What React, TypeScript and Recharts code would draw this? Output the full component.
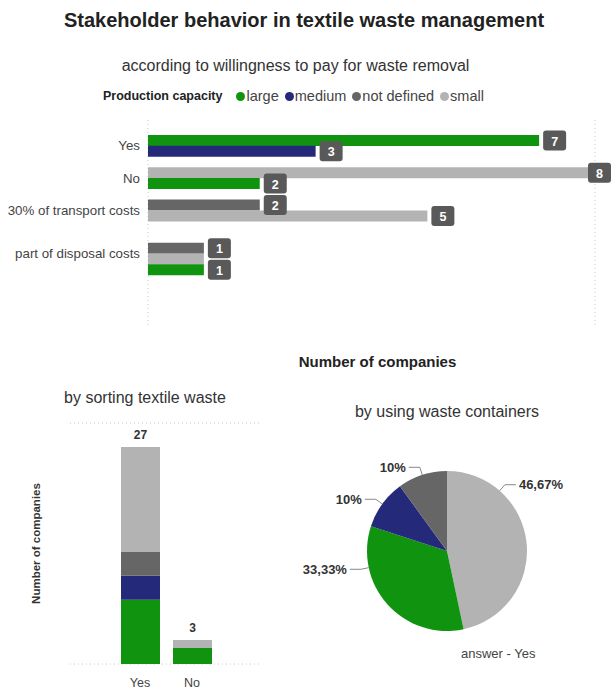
import React from 'react';
import { BarChart, Bar, XAxis, YAxis, CartesianGrid, Cell, LabelList, PieChart, Pie } from 'recharts';

const capacities = ['large', 'medium', 'not defined', 'small'];
const capacityColors: Record<string, string> = {
  large: '#109410',
  medium: '#25297a',
  'not defined': '#666666',
  small: '#b3b3b3',
};

// willingness to pay: one entry per drawn bar, top to bottom
const payAnswers = ['Yes', 'No', '30% of transport costs', 'part of disposal costs'];
const payBarAnswer = ['Yes', 'Yes', 'No', 'No', '30% of transport costs', '30% of transport costs', 'part of disposal costs', 'part of disposal costs', 'part of disposal costs'];
const payBarCapacity = ['large', 'medium', 'small', 'large', 'not defined', 'small', 'not defined', 'small', 'large'];
const payBarValue = [7, 3, 8, 2, 2, 5, 1, 1, 1];
const payTicks = [0, 2, 4, 6, 8];

// sorting textile waste (stacked)
const sortAnswers = ['Yes', 'No'];
const sortLarge = [8, 2];
const sortMedium = [3, 0];
const sortNotDefined = [3, 0];
const sortSmall = [13, 1];
const sortTicks = [0, 10, 20, 30];

// using waste containers, answer - Yes
const containerCapacity = ['small', 'large', 'medium', 'not defined'];
const containerCount = [14, 10, 3, 3];

const FONT = '"Liberation Sans", Arial, sans-serif';

// layout of the top chart
const TOP_W = 611;
const TOP_H = 260;
const TOP_MARGIN = { top: 10, right: 16, bottom: 0, left: 0 };
const TOP_XAXIS_H = 45;
const TOP_PAD = { top: 15, bottom: 50 };
const gapAfter = [1, 1, 2];

type PayRow = { row: string; answer: string; capacity: string; value: number; label: number | null; first: boolean };
const payRows: PayRow[] = [];
payAnswers.forEach((ans, g) => {
  const idx = payBarAnswer.map((a, i) => (a === ans ? i : -1)).filter((i) => i >= 0);
  idx.forEach((i, k) => {
    const show = k === 0 || k === idx.length - 1;
    payRows.push({
      row: `${ans}|${payBarCapacity[i]}`,
      answer: ans,
      capacity: payBarCapacity[i],
      value: payBarValue[i],
      label: show ? payBarValue[i] : null,
      first: k === 0,
    });
  });
  for (let s = 0; s < (gapAfter[g] || 0); s++) {
    payRows.push({ row: `gap-${g}-${s}`, answer: '', capacity: '', value: 0, label: null, first: false });
  }
});
const BAND = (TOP_H - TOP_MARGIN.top - TOP_XAXIS_H - TOP_PAD.top - TOP_PAD.bottom) / payRows.length;

const sortRows = sortAnswers.map((a, i) => ({
  answer: a,
  large: sortLarge[i],
  medium: sortMedium[i],
  notDefined: sortNotDefined[i],
  small: sortSmall[i],
  total: sortLarge[i] + sortMedium[i] + sortNotDefined[i] + sortSmall[i],
}));

const containerRows = containerCapacity.map((c, i) => ({ capacity: c, count: containerCount[i] }));
const containerTotal = containerCount.reduce((s, v) => s + v, 0);

function PayTick(props: any) {
  const { x, y, payload } = props;
  const r = payRows.find((p) => p.row === payload.value);
  if (!r || !r.first) return <g />;
  return (
    <text x={x} y={y + BAND / 2} textAnchor="end" dominantBaseline="central" fontSize={13.3} fill="#444" fontFamily={FONT}>
      {r.answer}
    </text>
  );
}

function ValueBox(props: any) {
  const { x, y, width, height, value } = props;
  if (value == null || value === '') return <g />;
  const bx = Math.min(x + width + 4, TOP_W - 23);
  const cy = y + height / 2;
  return (
    <g>
      <rect x={bx} y={cy - 10} width={23} height={20} rx={3} fill="#595959" />
      <text x={bx + 11.5} y={cy + 1} textAnchor="middle" dominantBaseline="central" fill="#fff" fontWeight="bold" fontSize={12.5} fontFamily={FONT}>
        {value}
      </text>
    </g>
  );
}

// where along each slice Power BI hangs the label (0 = slice start, 1 = slice end)
const pieLabelAt: Record<string, number> = { small: 0.245, large: 0.75, medium: 0.5, 'not defined': 0.5 };
const RAD = Math.PI / 180;

function fmtPct(v: number) {
  const p = (v / containerTotal) * 100;
  return Number.isInteger(Math.round(p * 100) / 100) ? `${Math.round(p)}%` : `${p.toFixed(2).replace('.', ',')}%`;
}

function PieLabel(props: any) {
  const { cx, cy, outerRadius, startAngle, endAngle, payload, value } = props;
  const f = pieLabelAt[payload.capacity] ?? 0.5;
  const a = startAngle + f * (endAngle - startAngle);
  const cos = Math.cos(-a * RAD);
  const sin = Math.sin(-a * RAD);
  const x0 = cx + outerRadius * cos;
  const y0 = cy + outerRadius * sin;
  const x1 = cx + (outerRadius + 8) * cos;
  const y1 = cy + (outerRadius + 8) * sin;
  const dir = cos >= 0 ? 1 : -1;
  const x2 = x1 + dir * 11;
  return (
    <g>
      <polyline points={`${x0},${y0} ${x1},${y1} ${x2},${y1}`} fill="none" stroke="#888" strokeWidth={1} />
      <text x={x2 + dir * 3} y={y1} textAnchor={dir > 0 ? 'start' : 'end'} dominantBaseline="central" fontSize={13} fontWeight="bold" fill="#333" fontFamily={FONT}>
        {fmtPct(value)}
      </text>
    </g>
  );
}

const abs = (left: number, top: number, extra: React.CSSProperties = {}): React.CSSProperties => ({
  position: 'absolute',
  left,
  top,
  ...extra,
});

export default function App() {
  return (
    <div style={{ position: 'absolute', left: 0, top: 0, width: 611, height: 690, background: '#fff', overflow: 'hidden', fontFamily: FONT }}>
      <div style={abs(0, 9, { width: 608, textAlign: 'center', fontSize: 20, fontWeight: 'bold', color: '#222', lineHeight: '22px' })}>
        Stakeholder behavior in textile waste management
      </div>
      <div style={abs(0, 56, { width: 591, textAlign: 'center', fontSize: 16, color: '#333', lineHeight: '20px' })}>
        according to willingness to pay for waste removal
      </div>

      <div style={abs(103, 87, { display: 'flex', alignItems: 'center', height: 18, whiteSpace: 'nowrap' })}>
        <span style={{ fontSize: 12.5, fontWeight: 'bold', color: '#222', marginRight: 14 }}>Production capacity</span>
        {capacities.map((c) => (
          <span key={c} style={{ display: 'flex', alignItems: 'center', marginRight: 6 }}>
            <span style={{ width: 9, height: 9, borderRadius: '50%', background: capacityColors[c], marginRight: 1 }} />
            <span style={{ fontSize: 14.5, color: '#444' }}>{c}</span>
          </span>
        ))}
      </div>

      <div style={abs(0, 110)}>
        <BarChart width={TOP_W} height={TOP_H} data={payRows} layout="vertical" margin={TOP_MARGIN} barCategoryGap={0} barGap={0}>
          <CartesianGrid horizontal={false} stroke="#c8c8c8" strokeDasharray="1 3" />
          <XAxis
            type="number"
            domain={[0, 8]}
            ticks={payTicks}
            tick={false}
            axisLine={false}
            tickLine={false}
            height={TOP_XAXIS_H}
            label={{ value: 'Number of companies', position: 'insideBottom', offset: 3, dx: 6, fontSize: 15, fontWeight: 'bold', fill: '#222', fontFamily: FONT }}
          />
          <YAxis
            type="category"
            dataKey="row"
            width={148}
            interval={0}
            axisLine={false}
            tickLine={false}
            padding={TOP_PAD}
            tick={<PayTick />}
          />
          <Bar dataKey="value" isAnimationActive={false}>
            {payRows.map((r) => (
              <Cell key={r.row} fill={capacityColors[r.capacity] || 'transparent'} />
            ))}
            <LabelList dataKey="label" content={<ValueBox />} />
          </Bar>
        </BarChart>
      </div>

      <div style={abs(0, 388, { width: 290, textAlign: 'center', fontSize: 16, color: '#333', lineHeight: '20px' })}>
        by sorting textile waste
      </div>
      <div style={abs(0, 380)}>
        <BarChart width={300} height={310} data={sortRows} margin={{ top: 43, right: 38, bottom: 0, left: 0 }}>
          <CartesianGrid vertical={false} stroke="#c8c8c8" strokeDasharray="1 3" />
          <XAxis
            dataKey="answer"
            axisLine={false}
            tickLine={false}
            height={26}
            tickMargin={8}
            padding={{ left: 44, right: 44 }}
            tick={{ fontSize: 12.5, fill: '#444', fontFamily: FONT }}
          />
          <YAxis
            domain={[0, 30]}
            ticks={sortTicks}
            tick={false}
            axisLine={false}
            tickLine={false}
            width={70}
            label={{ value: 'Number of companies', angle: -90, position: 'center', dx: 1, fontSize: 11.5, fontWeight: 'bold', fill: '#333', fontFamily: FONT }}
          />
          <Bar dataKey="large" stackId="s" fill={capacityColors.large} barSize={39} isAnimationActive={false} />
          <Bar dataKey="medium" stackId="s" fill={capacityColors.medium} barSize={39} isAnimationActive={false} />
          <Bar dataKey="notDefined" stackId="s" fill={capacityColors['not defined']} barSize={39} isAnimationActive={false} />
          <Bar dataKey="small" stackId="s" fill={capacityColors.small} barSize={39} isAnimationActive={false}>
            <LabelList dataKey="total" position="top" offset={8} fontSize={12} fontWeight="bold" fill="#333" fontFamily={FONT} />
          </Bar>
        </BarChart>
      </div>

      <div style={abs(300, 402, { width: 294, textAlign: 'center', fontSize: 16, color: '#333', lineHeight: '20px' })}>
        by using waste containers
      </div>
      <div style={abs(300, 390)}>
        <PieChart width={311} height={280} margin={{ top: 0, right: 0, bottom: 0, left: 0 }}>
          <Pie
            data={containerRows}
            dataKey="count"
            nameKey="capacity"
            cx={147}
            cy={161}
            outerRadius={80}
            startAngle={90}
            endAngle={-270}
            stroke="none"
            label={PieLabel}
            labelLine={false}
            isAnimationActive={false}
          >
            {containerRows.map((r) => (
              <Cell key={r.capacity} fill={capacityColors[r.capacity]} />
            ))}
          </Pie>
        </PieChart>
      </div>
      <div style={abs(461, 645, { fontSize: 13, color: '#444', lineHeight: '18px' })}>answer - Yes</div>
    </div>
  );
}
